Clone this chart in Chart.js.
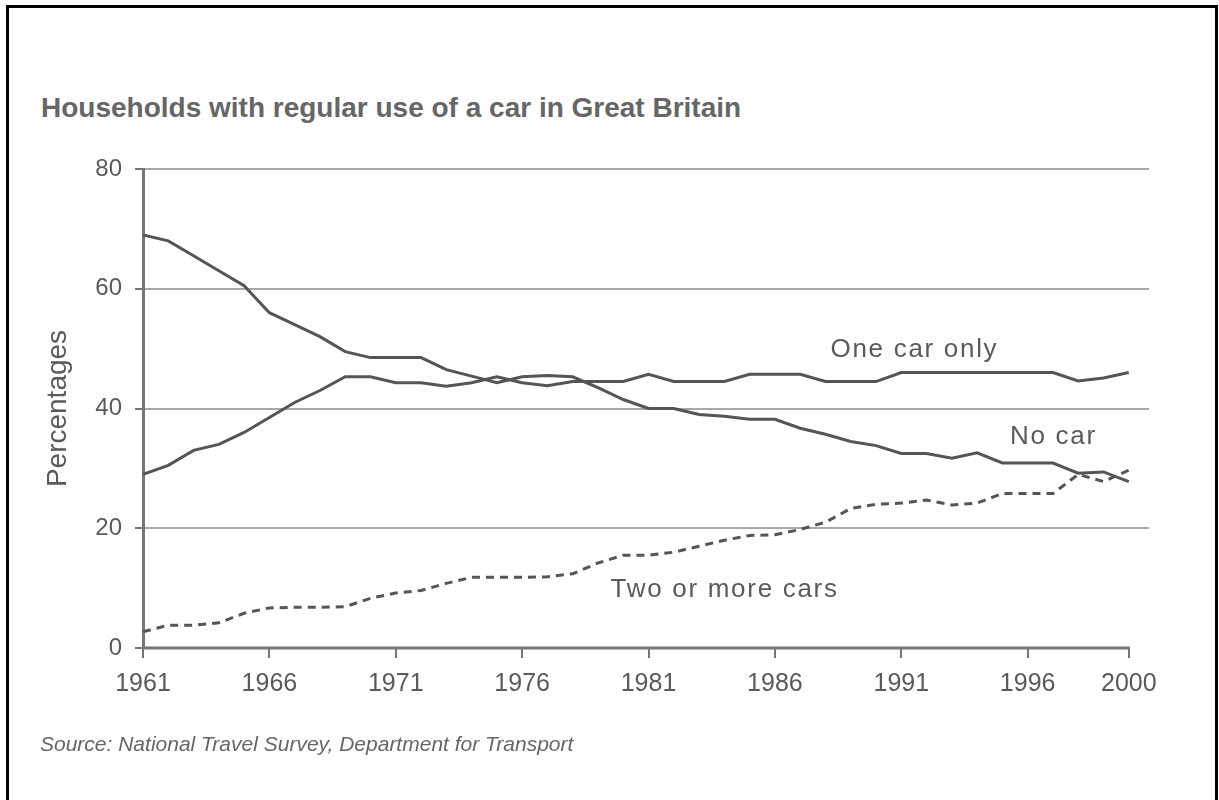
<!DOCTYPE html>
<html>
<head>
<meta charset="utf-8">
<script src="https://cdn.jsdelivr.net/npm/chart.js@4"></script>
<style>
  html, body { margin: 0; padding: 0; background: #fff; overflow: hidden; }
  body { width: 1219px; height: 800px; position: relative; font-family: "Liberation Sans", Arial, sans-serif; }
  .frame { position: absolute; left: 6px; top: 5px; width: 1206px; height: 820px; border: 3px solid #000; }
  .title { position: absolute; left: 41px; top: 92px; font-size: 28px; line-height: 32px; font-weight: bold; color: #666; white-space: nowrap; }
  .source { position: absolute; left: 40px; top: 732px; font-size: 21px; font-style: italic; color: #666; white-space: nowrap; }
  .wrap { position: absolute; left: 0; top: 0; width: 1219px; height: 800px; }
</style>
</head>
<body>
<div class="frame"></div>
<div class="title">Households with regular use of a car in Great Britain</div>
<div class="wrap"><canvas id="carChart"></canvas></div>
<div class="source">Source: National Travel Survey, Department for Transport</div>

<script>
// =============== D A T A ================================
const years = [
  1961, 1962, 1963, 1964, 1965, 1966, 1967, 1968, 1969, 1970,
  1971, 1972, 1973, 1974, 1975, 1976, 1977, 1978, 1979, 1980,
  1981, 1982, 1983, 1984, 1985, 1986, 1987, 1988, 1989, 1990,
  1991, 1992, 1993, 1994, 1995, 1996, 1997, 1998, 1999, 2000
];
const noCar = [
  69, 68, 65.5, 63, 60.5, 56, 54, 52, 49.5, 48.5,
  48.5, 48.5, 46.5, 45.4, 44.3, 45.3, 45.5, 45.3, 43.5, 41.5,
  40, 40, 39, 38.7, 38.2, 38.2, 36.7, 35.7, 34.5, 33.8,
  32.5, 32.5, 31.7, 32.6, 30.9, 30.9, 30.9, 29.2, 29.4, 27.8
];
const oneCar = [
  29, 30.5, 33, 34, 36, 38.5, 41, 43, 45.3, 45.3,
  44.3, 44.3, 43.7, 44.3, 45.3, 44.3, 43.8, 44.5, 44.5, 44.5,
  45.7, 44.5, 44.5, 44.5, 45.7, 45.7, 45.7, 44.5, 44.5, 44.5,
  46, 46, 46, 46, 46, 46, 46, 44.6, 45.1, 46
];
const twoPlus = [
  2.7, 3.8, 3.8, 4.2, 5.8, 6.7, 6.8, 6.8, 6.9, 8.3,
  9.2, 9.6, 10.8, 11.8, 11.8, 11.8, 11.9, 12.4, 14.2, 15.5,
  15.5, 16, 17, 18, 18.8, 18.9, 19.8, 21, 23.3, 24,
  24.2, 24.7, 23.9, 24.2, 25.8, 25.8, 25.8, 29, 27.8, 29.7
];
const xTicks = [1961, 1966, 1971, 1976, 1981, 1986, 1991, 1996, 2000];
const yTicks = [0, 20, 40, 60, 80];

const LINE = '#555';
const GRID = '#a8a8a8';
const AXIS = '#777';
const TXT = '#5a5a5a';

const toPts = arr => arr.map((v, i) => ({ x: years[i], y: v }));

// =============== P L U G I N =============================
// x axis line (only up to 2000) + series labels
const extras = {
  id: 'extras',
  beforeDatasetsDraw(chart) {
    const { ctx, scales: { x, y } } = chart;
    ctx.save();
    ctx.strokeStyle = AXIS;
    ctx.lineWidth = 3;
    ctx.beginPath();
    ctx.moveTo(x.getPixelForValue(years[0]) - 1, y.getPixelForValue(0));
    ctx.lineTo(x.getPixelForValue(years[years.length - 1]) + 1, y.getPixelForValue(0));
    ctx.stroke();
    ctx.restore();
  },
  afterDraw(chart, args, opts) {
    const { ctx, scales: { x, y } } = chart;
    ctx.save();
    ctx.font = '26px "Liberation Sans", Arial, sans-serif';
    ctx.fillStyle = TXT;
    ctx.textBaseline = 'alphabetic';
    ctx.textAlign = 'left';
    if ('letterSpacing' in ctx) ctx.letterSpacing = '1.7px';
    opts.labels.forEach(l => {
      ctx.fillText(l.text, x.getPixelForValue(l.x), y.getPixelForValue(l.y));
    });
    ctx.restore();
  }
};

// =============== C H A R T ===============================
new Chart(document.getElementById('carChart'), {
  type: 'line',
  data: {
    datasets: [
      { label: 'No car', data: toPts(noCar), borderColor: LINE, borderWidth: 3 },
      { label: 'One car only', data: toPts(oneCar), borderColor: LINE, borderWidth: 3 },
      { label: 'Two or more cars', data: toPts(twoPlus), borderColor: LINE, borderWidth: 3, borderDash: [8, 6] }
    ]
  },
  options: {
    responsive: true,
    maintainAspectRatio: false,
    animation: false,
    elements: { point: { radius: 0 }, line: { tension: 0 } },
    layout: { padding: { left: 0, top: 169, right: 70, bottom: 92 } },
    plugins: {
      legend: { display: false },
      tooltip: { enabled: false },
      extras: {
        labels: [
          { text: 'One car only', x: 1988.2, y: 48.6 },
          { text: 'No car', x: 1995.3, y: 34.1 },
          { text: 'Two or more cars', x: 1979.5, y: 8.6 }
        ]
      }
    },
    scales: {
      x: {
        type: 'linear',
        min: 1961,
        max: 2000.8,
        afterBuildTicks: s => { s.ticks = xTicks.map(v => ({ value: v })); },
        afterFit: s => { s.height = 60; },
        border: { display: false },
        grid: { drawOnChartArea: false, drawTicks: true, tickLength: 10, tickColor: AXIS, lineWidth: 2 },
        ticks: {
          callback: v => String(v),
          font: { family: '"Liberation Sans", Arial, sans-serif', size: 25 },
          color: TXT,
          padding: 11,
          maxRotation: 0
        }
      },
      y: {
        min: 0,
        max: 80,
        afterBuildTicks: s => { s.ticks = yTicks.map(v => ({ value: v })); },
        afterFit: s => { s.width = 143; },
        border: { display: true, color: AXIS, width: 3 },
        grid: {
          color: c => (c.tick && c.tick.value === 0 ? 'rgba(0,0,0,0)' : GRID),
          tickColor: AXIS,
          lineWidth: 2,
          tickLength: 8
        },
        ticks: {
          font: { family: '"Liberation Sans", Arial, sans-serif', size: 24 },
          color: TXT,
          padding: 13
        },
        title: {
          display: true,
          text: 'Percentages',
          color: TXT,
          font: { family: '"Liberation Sans", Arial, sans-serif', size: 28 },
          padding: { top: 41, bottom: 0 }
        }
      }
    }
  },
  plugins: [extras]
});
</script>
</body>
</html>
